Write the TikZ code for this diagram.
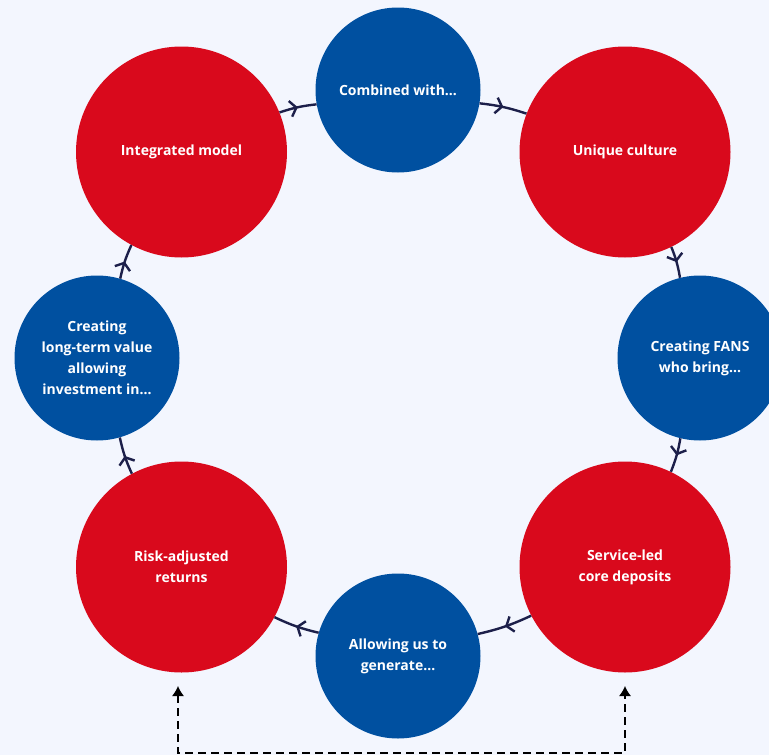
\documentclass[tikz,border=0pt]{standalone}
\usepackage{fontspec}
\setmainfont{Open Sans}
\usetikzlibrary{arrows.meta,decorations.markings}
\definecolor{bgc}{HTML}{F3F6FE}
\definecolor{redc}{HTML}{D9091C}
\definecolor{bluec}{HTML}{0050A0}
\definecolor{navy}{HTML}{1C1F4A}
\tikzset{
  lbl/.style={text=white,font=\bfseries\fontsize{14}{21}\selectfont,align=center},
  bigc/.style={circle,fill=redc,minimum size=211pt,inner sep=0pt,lbl},
  smallc/.style={circle,fill=bluec,minimum size=165pt,inner sep=0pt,lbl},
  flow/.style={draw=navy,line width=2.4pt,bend left=6,postaction={decorate},
    decoration={markings,mark=at position 0.5 with {\arrow{Straight Barb[length=6pt,width=16pt,line width=2.4pt]}}}},
  dashline/.style={draw=black,line width=1.2pt,dash pattern=on 8pt off 5pt,{Latex[length=10pt,width=12pt]}-{Latex[length=10pt,width=12pt]}}
}
\begin{document}
\begin{tikzpicture}[x=1pt,y=-1pt]
\path[fill=bgc] (0,0) rectangle (769,755);
\useasboundingbox (0,0) rectangle (769,755);
\clip (0,0) rectangle (769,755);
\node[bigc]   (im) at (181.5,152) {Integrated model};
\node[smallc] (cw) at (398,90) {Combined with…};
\node[bigc]   (uc) at (625,152) {Unique culture};
\node[smallc] (cf) at (700,358) {Creating FANS\\who bring…};
\node[bigc]   (sl) at (625,567) {Service-led\\core deposits};
\node[smallc] (ag) at (398,656) {Allowing us to\\generate…};
\node[bigc]   (ra) at (181.5,567) {Risk-adjusted\\returns};
\node[smallc] (lt) at (97,358) {Creating\\long-term value\\allowing\\investment in…};
\path[flow] (im) to (cw);
\path[flow] (cw) to (uc);
\path[flow] (uc) to (cf);
\path[flow] (cf) to (sl);
\path[flow] (sl) to (ag);
\path[flow] (ag) to (ra);
\path[flow] (ra) to (lt);
\path[flow] (lt) to (im);
\coordinate (d1) at (178,686);
\coordinate (d2) at (178,753);
\coordinate (d3) at (625,753);
\coordinate (d4) at (625,686);
\draw[dashline] (d1) -- (d2) -- (d3) -- (d4);
\end{tikzpicture}
\end{document}
